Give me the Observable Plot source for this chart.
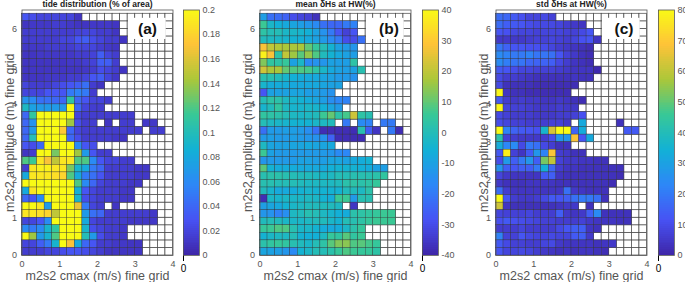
<!DOCTYPE html>
<html><head><meta charset="utf-8">
<script src="https://cdn.jsdelivr.net/npm/d3@7"></script>
<script src="https://cdn.jsdelivr.net/npm/@observablehq/plot@0.6"></script>
<style>
html,body{margin:0;padding:0;background:#fff}
#c{position:relative;width:685px;height:282px;overflow:hidden}
#c svg{position:absolute;top:0;overflow:visible;background:transparent}
</style></head><body><div id="c"></div>
<script>
const _ = null;
const xTicks = [0,1,2,3,4];
const yTicks = [0,1,2,3,4,5,6];
const parula = ["#3e26a8","#4752f4","#2d87f7","#12b1d6","#37c897","#abc739","#fec338","#f9fb15"];
// rows run from top (6.2-6.4 m) to bottom (0-0.2 m); columns from cmax 0 by 0.2 m/s
const tideDist = [ // hundredths
[3,2.5,2,2,2,2,2,1],
[1,1.2,1.2,1.2,1.5,1.5,1.2,1,1,1.2,1.2,1.2,1],
[1.5,1.5,1.5,1.5,1.5,1.5,1.5,1.8,2,2,1.5,1.5,1],
[1.5,1.5,1.5,1.5,1.5,2,2,3,3.5,2.5,2,1.5,1.5,1],
[1.2,1.2,1.2,1.5,1.5,1.5,1.5,2,2,2,1.5,1.2,1],
[1,1,1.2,1.2,1.2,1.2,1.2,1.5,1.5,1.8,3.5,2,1.5],
[1,1,1,1,1,1,1.2,1.2,1.5,1.8,3.5,3.5,1.5],
[1,1,1,1,1,1,1,1,1.2,1.5,2.5,2,1.5,1],
[1,1,1,1.2,1.2,1.2,1.5,1.5,2,3,3.5,2,1.2],
[2,1.5,1.5,1.5,2,2.5,3,3.5,4.5,1.5,1],
[2,2,2,3,3,3,5,5.5,5,1.5],
[6.5,6,4.5,4.5,4,4,11,4,3,2,2,1.5],
[9.5,7.5,7,7,7,7,20,4,2,1.5,1.5],
[4,11,20,20,20,20,20,2,1.5,1.5,1.5,1.5,1.5,1.5,1.5],
[4,6.5,20,20,20,20,14,2.5,1.5,1.5,_,1,_,1.5,1.5,_,1.2,1.2],
[4,7,20,20,20,17.5,4,2,1.5,1.5,1.5,1.5,1.5,1.5,1.5,1.5,_,1.5,1.5],
[4,10,20,20,20,20,4,2.5,1.5,1.5,1.5,1.5,1.2,1],
[3,2.5,4,20,20,20,20,6,3,2.5],
[1,1.5,20,20,13,20,20,14,7,3,1.5,1.5],
[12,11.5,19,17,15,19,19,12,12,6,3,2,2,1.5,1.5],
[1.5,19,19.5,19.5,19,19,13,9,8,5,4,1.5,1.5,1.5,1.5,1.2,1.2],
[8,19,19,19,18.5,18,12,8,5,4.5,3,1.5,1.5,1.5,1.5,1.2,1.2],
[20,20,20,20,20,20,20,12,6,4,2,1.5,1.5,1.5,1.2,1.2],
[8,19,20,20,20,20,20,8.5,3,2,1.5,1.5,1.5,1.2,1.2],
[4,3,6,20,20,20,20,9,2.5,2,1.5,1.5,1.5,1.2,1.2],
[20,20,19,7,20,20,20,16.5,5,2,1.5,_,1],
[19,19,18.5,18,15,20,20,20,7,4.5,4,1.5,1.5,1.5,1.5,1.5,1.5,1.2],
[2,2,3,6,20,20,20,20,8,2,1.5,1.5,1.5,1.5,1.2,1.2,1.2,1.2],
[6,5,6,9,11,20,20,20,9,2.5,2,1.5,1.5,1.2],
[20,14,7,9,12,20,20,20,10,7,2.5,1.5,1.5,1.2],
[2,2,3.5,5,9,20,17,8,4,3,1.5,1.5,1.2,1.2,1,1],
[1.5,1.5,1.5,2,2,2.5,3,3,2.5,2,1.5,1,1,1,1,1]
];
const meanDelta = [
[-11,-22,-23,-25,-30,-32,-33,-37],
[6,-3,-6,-8,-9,-11,-13,-16,-22,-24,-24,-20,-18],
[3,0,0,-3,-3,-4,-6,-10,-14,-20,-28,-33,-28],
[-1,-2,-3,-4,-5,-6,-8,-10,-12,-16,-20,-30,-30,-22],
[28,20,18,17,17,17,10,5,0,-5,-10,-12,-13],
[38,28,3,20,16,9,15,8,-1,-5,-8,-10,-11],
[13,4,3,5,-10,-3,-16,-14,-13,-10,-11,-11,3],
[22,17,17,10,8,8,7,3,-3,-8,-10,-11,-10,1],
[1,1,-1,-4,-6,-7,-8,-8,-9,-10,-12,-12,-14],
[-4,-7,-7,-7,-8,-8,-8,-8,-9,-10,-10],
[-28,-10,-10,-10,-9,-9,-11,-11,-12,-14],
[0,3,2,-2,-4,-5,-7,-9,-11,-15,-17,-18],
[-4,-1,4,-2,-4,-4,-3,-4,-6,-9,-12],
[4,3,2,0,-2,-3,-2,-1,6,10,3,7,22,3,1],
[0,-2,-3,-4,-5,-5,-5,-3,-2,-1,_,-20,_,-16,-18,_,-20,-20],
[-22,-12,-12,-11,-11,-12,-15,-22,-38,-38,-38,-38,-38,1,-26,-36,_,-20,-38],
[-12,-11,-12,-12,-11,-12,-13,-14,-14,-25,-38,-38,-38,-38],
[-2,-9,-10,-10,-9,-9,-8,-9,-9,-8],
[6,-10,-12,-12,-12,-12,-12,-12,-12,-13,-16,-17],
[-13,-12,-12,-12,-12,-10,-10,-11,-11,-9,-9,-10,-8,-7,-5],
[9,-5,-7,-7,-7,-8,-8,-8,-8,-6,-5,-5,-5,-6,-7,-10,-11],
[1,2,2,1,0,-1,-1,-2,-3,-2,0,0,1,1,1,2,4],
[1,1,0,0,0,-1,-2,-2,-2,-2,-1,2,3,2,3,5],
[-1,-4,-8,-8,-7,-5,-4,-5,-5,-5,-5,-1,-1,-2,2],
[-38,-3,-4,-3,-3,-3,-2,-3,-5,-7,6,6,-12,1,1],
[-11,-9,-8,-5,-3,-2,-1,-1,-1,-1,-2,_,-36],
[-13,-14,-18,-15,-2,-1,1,0,-2,-4,-6,-7,2,3,4,5,6,6],
[-1,0,-1,-3,-3,-3,-2,-1,-1,-3,-5,0,1,3,5,6,6,6],
[5,6,8,8,1,-3,-3,-5,-7,-8,-7,-3,2,5],
[-5,-3,-2,-2,0,-5,-6,-6,-2,5,4,9,4,6],
[2,4,5,4,1,-1,-3,0,3,9,13,14,8,9,7,5],
[-9,-10,-11,-13,-16,-5,-3,0,0,2,5,8,6,5,5,3]
];
const stdDelta = [
[17,16,13,11,8,8,9,7],
[17,14,13,12,10,9,9,9,8,6,5,4],
[12,11,9,8,8,7,8,8,8,7,7,9,12],
[5,5,5,5,6,7,7,8,7,6,8,11,12,4],
[19,15,12,12,11,11,10,8,6,5,4,3,2],
[24,22,20,20,22,19,19,18,12,7,5,3,2],
[24,21,19,19,16,15,15,14,9,6,4,3,2],
[13,12,10,8,8,7,7,7,6,5,4,4,4,1],
[9,6,6,5,4,3,3,3,3,3,4,3,3],
[9,3,3,3,3,2,2,2,2,2,2],
[79,4,3,3,2,2,2,2,2,2],
[13,6,5,6,5,5,4,4,5,4,3,2],
[79,8,7,7,6,5,5,5,6,5,5],
[9,7,6,6,6,5,5,5,6,6,7,11],
[10,8,7,7,6,6,6,7,7,5,_,32,_,_,_,_,3],
[80,22,15,13,12,11,36,63,80,80,15,33,_,_,_,_,_,13,13],
[42,7,6,5,5,5,6,10,27,27,68,12,32],
[33,23,24,9,20,18,9,6,3,3],
[13,78,7,4,13,27,22,68,6,5,3,3],
[10,28,14,20,27,14,52,60,7,5,5,4,4,3,3],
[26,14,12,14,14,20,34,16,6,4,4,3,3,3,3,3,3],
[8,5,4,4,4,4,13,14,4,3,3,3,3,3,3,3,2],
[5,3,3,3,4,4,4,4,3,3,3,3,3,3,3,2],
[17,6,4,4,4,4,4,4,4,18,5,4,3,3,3],
[80,12,6,5,5,6,9,13,12,14,18,20,20,18,3],
[62,4,3,3,3,3,3,3,4,5,5,_,3],
[8,7,7,7,8,6,6,6,14,5,4,5,14,24,3,3,3,3],
[11,13,11,10,9,8,7,7,6,6,6,7,5,4,4,4,3,3],
[6,6,6,8,6,6,6,6,9,12,14,14,4,3],
[22,7,7,12,9,8,8,9,8,8,13,14,5],
[13,9,7,7,6,6,8,9,5,4,4,4,4,3,4,5],
[12,8,8,9,8,6,5,4,3,4,3,4,4,3,2]
];
const nCols = 20, nRows = 32, dx = 0.2, dy = 0.2;
const panels = [
 {title:"tide distribution (% of area)", tag:"(a)", rows:tideDist, scale:0.01, domain:[0,0.2], cticks:[0,.02,.04,.06,.08,.1,.12,.14,.16,.18,.2], left:0, cx:183, tagx:147},
 {title:"mean δHs at HW(%)", tag:"(b)", rows:meanDelta, scale:1, domain:[-40,40], cticks:[-40,-30,-20,-10,0,10,20,30,40], left:237.5, cx:184, tagx:150.5},
 {title:"std δHs at HW(%)", tag:"(c)", rows:stdDelta, scale:1, domain:[0,80], cticks:[0,10,20,30,40,50,60,70,80], left:474.3, cx:183.5, tagx:149.5}
];
const gridCells = d3.cross(d3.range(nCols), d3.range(nRows)).map(([i,j])=>({x:i*dx,y:j*dy}));
const ink = "#555";
const font = "Liberation Sans, Arial, sans-serif";
const root = document.getElementById("c");
const frameMargins = {marginTop:9.5,marginBottom:27,height:282};
for (const p of panels) {
  const cells = [];
  p.rows.forEach((r,k)=>r.forEach((v,i)=>{ if(v!==null) cells.push({x:i*dx,y:(nRows-1-k)*dy,v:v*p.scale}); }));
  const color = {type:"linear",domain:p.domain,interpolate:d3.piecewise(d3.interpolateRgb,parula),clamp:true};
  const main = Plot.plot({
    ...frameMargins,width:178,marginLeft:21.5,marginRight:5.5,
    style:{fontFamily:font,background:"transparent",overflow:"visible"},
    x:{domain:[0,4]},
    y:{domain:[0,6.5]},
    color,
    marks:[
      Plot.rect(gridCells,{x1:"x",x2:d=>d.x+dx,y1:"y",y2:d=>d.y+dy,fill:"white",stroke:"#444",strokeWidth:0.7,inset:0}),
      Plot.rect(cells,{x1:"x",x2:d=>d.x+dx,y1:"y",y2:d=>d.y+dy,fill:"v",stroke:"#333",strokeWidth:0.4,strokeOpacity:0.8}),
      Plot.rect([{x1:2.82,x2:3.82,y1:5.72,y2:6.28}],{x1:"x1",x2:"x2",y1:"y1",y2:"y2",fill:"white"}),
      Plot.text([p.tag],{x:()=>(p.tagx-21.5)/37.75,y:()=>6,text:d=>d,fontSize:15.5,fontWeight:"bold",fill:"#111"}),
      Plot.frame({stroke:ink,strokeWidth:0.8}),
      Plot.axisX(xTicks,{anchor:"bottom",tickSize:0,tickPadding:5,fontSize:9,color:ink,label:"m2s2 cmax (m/s) fine grid",labelAnchor:"center",labelArrow:"none",labelOffset:24}),
      Plot.axisY(yTicks,{anchor:"left",tickSize:0,tickPadding:5,fontSize:9,color:ink,label:"m2s2 amplitude (m) fine grid",labelAnchor:"center",labelArrow:"none",labelOffset:17}),
      Plot.text([p.title],{x:()=>2,y:()=>6.5,text:d=>d,dy:-5.5,fontSize:8.5,fontWeight:"bold",fill:"#222"})
    ]
  });
  main.style.left = p.left+"px";
  main.querySelectorAll('[aria-label="x-axis label"] text, [aria-label="y-axis label"] text').forEach(t=>{t.setAttribute("font-size","12.5");t.style.fontSize="12.5px";});
  root.append(main);
  const n = 128, [lo,hi] = p.domain;
  const steps = d3.range(n).map(i=>({a:lo+(hi-lo)*i/n,b:lo+(hi-lo)*(i+1)/n}));
  const bar = Plot.plot({
    ...frameMargins,width:46,marginLeft:0,marginRight:30,
    style:{fontFamily:font,background:"transparent",overflow:"visible"},
    x:{domain:[0,1]},
    y:{domain:p.domain},
    color,
    marks:[
      Plot.rect(steps,{x1:()=>0,x2:()=>1,y1:"a",y2:"b",fill:d=>(d.a+d.b)/2,shapeRendering:"crispEdges",inset:0}),
      Plot.frame({stroke:ink,strokeWidth:0.8}),
      Plot.axisY(p.cticks,{anchor:"right",tickSize:0,tickPadding:3,fontSize:9,color:ink,label:null,tickFormat:d=>String(d)})
    ]
  });
  bar.style.left = (p.left+p.cx)+"px";
  root.append(bar);
}
</script></body></html>
